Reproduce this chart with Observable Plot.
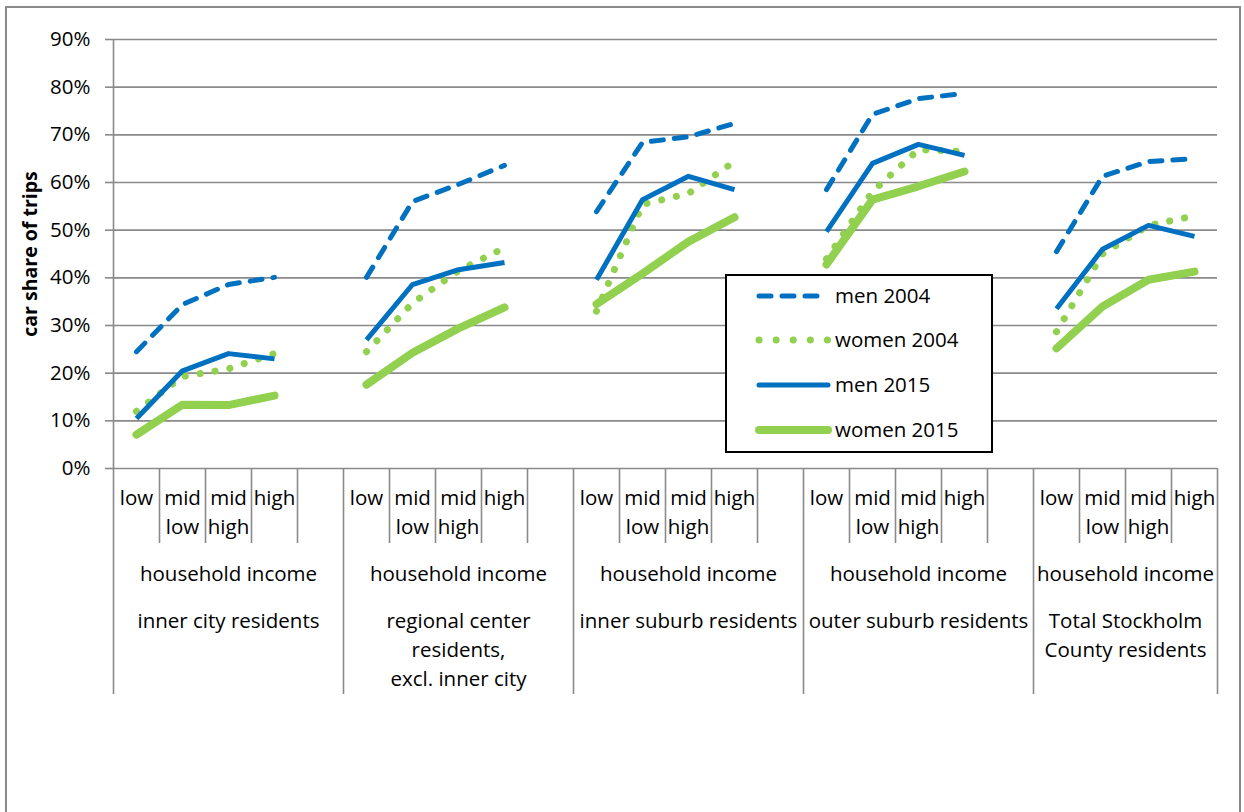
<!DOCTYPE html>
<html>
<head>
<meta charset="utf-8">
<script src="https://cdn.jsdelivr.net/npm/d3@7"></script>
<script src="https://cdn.jsdelivr.net/npm/@observablehq/plot@0.6"></script>
<style>
  html, body { margin: 0; padding: 0; background: #fff; }
  #wrap { position: relative; width: 1244px; height: 812px; overflow: hidden; font-family: "Open Sans", sans-serif; }
  #chart { position: absolute; left: 0; top: 0; }
  #border { position: absolute; left: 5px; top: 6px; width: 1236px; height: 840px; border: 2px solid #8a8a8a; box-sizing: border-box; pointer-events: none; }
  #legend { position: absolute; left: 725px; top: 274px; width: 268px; height: 179px; border: 2px solid #000; background: #fff; box-sizing: border-box; }
</style>
</head>
<body>
<div id="wrap">
  <div id="chart"></div>
  <div id="border"></div>
  <div id="legend"></div>
</div>
<script>
// ---- data ----
const groupNames = [
  "inner city residents",
  "regional center\nresidents,\nexcl. inner city",
  "inner suburb residents",
  "outer suburb residents",
  "Total Stockholm\nCounty residents"
];
const incomeLevels = ["low", "mid\nlow", "mid\nhigh", "high"];
const incomeTitle = "household income";
const yTicks = [0, 10, 20, 30, 40, 50, 60, 70, 80, 90];
const yTitle = "car share of trips";

const seriesNames = ["men 2004", "women 2004", "men 2015", "women 2015"];
// values in %, 4 income levels per group, 5 groups
const men2004   = [24.5, 34.4, 38.6, 40.1,  40.1, 56.0, 59.6, 63.6,  53.9, 68.4, 69.6, 72.4,  58.5, 74.3, 77.6, 78.7,  45.5, 61.3, 64.4, 65.0];
const women2004 = [12.0, 19.3, 20.9, 24.1,  24.5, 34.7, 41.5, 46.3,  33.0, 55.4, 57.7, 64.4,  44.0, 58.1, 66.9, 66.5,  28.7, 45.0, 51.0, 53.0];
const men2015   = [10.5, 20.5, 24.1, 23.0,  27.0, 38.6, 41.7, 43.2,  39.6, 56.4, 61.3, 58.5,  49.7, 64.0, 68.0, 65.7,  33.5, 46.0, 51.0, 48.7];
const women2015 = [ 7.1, 13.4, 13.3, 15.3,  17.6, 24.3, 29.4, 33.8,  34.5, 40.9, 47.6, 52.7,  42.8, 56.4, 59.2, 62.3,  25.2, 34.0, 39.6, 41.3];
const seriesValues = [men2004, women2004, men2015, women2015];

// ---- styles ----
const styles = [
  {stroke: "#0070C0", strokeWidth: 5, strokeDasharray: "12 11", strokeLinecap: "round"},
  {stroke: "#92D050", strokeWidth: 7, strokeDasharray: "0.1 15", strokeLinecap: "round"},
  {stroke: "#0070C0", strokeWidth: 5, strokeLinecap: "butt"},
  {stroke: "#92D050", strokeWidth: 8, strokeLinecap: "round"}
];
const gray = "#8a8a8a";
const fontSize = 20.5;

// ---- category structure (Excel-style blank category between groups) ----
const cats = [];
const groups = [];
let slot = 0;
groupNames.forEach((name, gi) => {
  const start = slot;
  incomeLevels.forEach((lev, li) => { cats.push({group: gi, level: lev, idx: li, slot}); slot++; });
  if (gi < groupNames.length - 1) slot++;
  groups.push({name, start, end: slot});
});
const nSlots = slot;
const bounds = groups.map(g => g.start).concat([nSlots]);
const minor = d3.range(1, nSlots).filter(k => !bounds.includes(k));

const rows = [];
seriesNames.forEach((s, si) => {
  cats.forEach((c, ci) => {
    rows.push({series: s, group: c.group, x: c.slot + 0.5, value: seriesValues[si][ci]});
  });
});

const W = 1244, H = 812, mT = 39, mB = 344, mL = 113, mR = 27;
const plotH = H - mT - mB;

const lineMarks = seriesNames.map((s, si) =>
  Plot.line(rows.filter(r => r.series === s), {
    x: "x", y: "value", z: "group",
    strokeLinejoin: "round",
    ...styles[si]
  })
);

const chart = Plot.plot({
  width: W, height: H,
  marginTop: mT, marginBottom: mB, marginLeft: mL, marginRight: mR,
  style: {fontFamily: "'Open Sans', sans-serif", fontSize: fontSize + "px", background: "transparent", color: "#000"},
  x: {domain: [0, nSlots], axis: null},
  y: {domain: [0, 90], label: null},
  marks: [
    Plot.gridY(yTicks, {stroke: gray, strokeOpacity: 1, strokeWidth: 1.6}),
    Plot.axisY(yTicks, {tickSize: 8, tickPadding: 15, tickFormat: d => d + "%", stroke: gray, strokeWidth: 1.6, fill: "#000", fontSize: fontSize, label: null}),
    Plot.ruleX([0], {stroke: gray, strokeWidth: 1.6}),
    Plot.ruleX(bounds, {x: d => d, insetTop: plotH, insetBottom: -226, stroke: gray, strokeWidth: 1.6}),
    Plot.ruleX(minor, {x: d => d, insetTop: plotH, insetBottom: -75, stroke: gray, strokeWidth: 1.6}),
    Plot.text(cats, {x: d => d.slot + 0.5, text: "level", frameAnchor: "bottom", lineAnchor: "top", dy: 15, lineHeight: 1.45, fontSize: fontSize, fill: "#000"}),
    Plot.text(groups, {x: d => (d.start + d.end) / 2, text: () => incomeTitle, frameAnchor: "bottom", lineAnchor: "top", dy: 98, fontSize: fontSize, fill: "#000"}),
    Plot.text(groups, {x: d => (d.start + d.end) / 2, text: "name", frameAnchor: "bottom", lineAnchor: "top", dy: 139, lineHeight: 1.42, fontSize: fontSize, fill: "#000"}),
    Plot.text([yTitle], {frameAnchor: "left", dx: -83, rotate: -90, textAnchor: "middle", fontWeight: "bold", fontSize: 19.5, fill: "#000"}),
    ...lineMarks
  ]
});
document.getElementById("chart").appendChild(chart);

// ---- legend ----
const ns = "http://www.w3.org/2000/svg";
const lg = document.createElementNS(ns, "svg");
lg.setAttribute("width", 264);
lg.setAttribute("height", 175);
lg.style.display = "block";
const rowY = [20, 64, 109, 154];
seriesNames.forEach((s, si) => {
  const st = styles[si];
  const ln = document.createElementNS(ns, "line");
  ln.setAttribute("x1", 32); ln.setAttribute("x2", si === 0 ? 95 : 101);
  ln.setAttribute("y1", rowY[si]); ln.setAttribute("y2", rowY[si]);
  ln.setAttribute("stroke", st.stroke);
  ln.setAttribute("stroke-width", st.strokeWidth);
  ln.setAttribute("stroke-linecap", "round");
  if (st.strokeDasharray) ln.setAttribute("stroke-dasharray", si === 1 ? "0.1 17" : st.strokeDasharray);
  lg.appendChild(ln);
  const tx = document.createElementNS(ns, "text");
  tx.setAttribute("x", 108); tx.setAttribute("y", rowY[si]);
  tx.setAttribute("dy", "0.36em");
  tx.setAttribute("font-family", "'Open Sans', sans-serif");
  tx.setAttribute("font-size", fontSize);
  tx.textContent = s;
  lg.appendChild(tx);
});
document.getElementById("legend").appendChild(lg);
</script>
</body>
</html>
